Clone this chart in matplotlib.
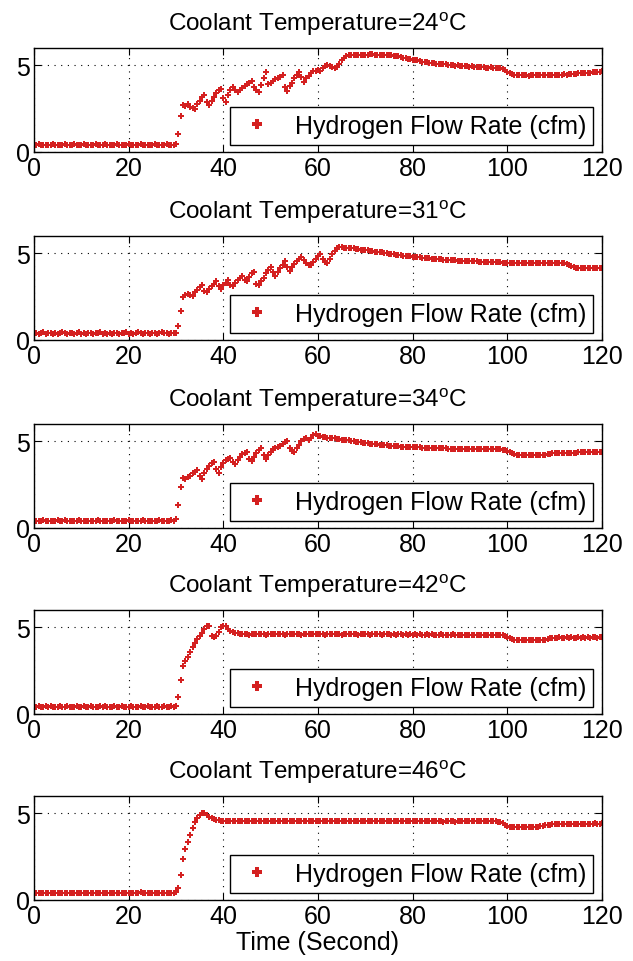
import numpy as np
import matplotlib
matplotlib.use("Agg")
import matplotlib.pyplot as plt

plt.rcParams['font.family'] = ['Liberation Sans', 'DejaVu Sans']
plt.rcParams['mathtext.fontset'] = 'custom'
plt.rcParams['mathtext.rm'] = 'Liberation Sans'

# coolant temperatures (one panel each)
temps = [24, 31, 34, 42, 46]

# hydrogen flow rate (cfm), sampled every 0.5 s from 0 to 120 s
flow_24 = [
    0.42, 0.4, 0.44, 0.41, 0.39, 0.43, 0.42, 0.4, 0.44, 0.41,
    0.43, 0.4, 0.42, 0.45, 0.41, 0.39, 0.42, 0.44, 0.4, 0.43,
    0.41, 0.44, 0.42, 0.4, 0.43, 0.41, 0.45, 0.42, 0.4, 0.43,
    0.44, 0.41, 0.43, 0.4, 0.42, 0.44, 0.41, 0.43, 0.4, 0.42,
    0.45, 0.42, 0.4, 0.43, 0.41, 0.44, 0.42, 0.4, 0.43, 0.41,
    0.42, 0.44, 0.4, 0.43, 0.41, 0.42, 0.44, 0.4, 0.43, 0.42,
    0.45, 1.05, 2.05, 2.72,
    2.68, 2.75, 2.6, 2.55, 2.48,
    2.75, 2.95, 3.15, 3.3,
    2.9, 2.7,
    2.95, 3.2, 3.4, 3.55, 3.65,
    3.1, 2.9,
    3.3, 3.55, 3.75,
    3.55, 3.45,
    3.6, 3.7, 3.8, 3.9, 4.0, 4.1,
    3.75, 3.55, 3.45,
    3.85, 4.25, 4.6,
    3.95, 4.0, 4.1, 4.2, 4.25, 4.3, 4.45,
    3.75, 3.5,
    3.8, 4.0, 4.25, 4.45, 4.6,
    4.3, 4.05,
    4.25, 4.4, 4.55, 4.65, 4.7, 4.75,
    4.7, 4.85, 4.95, 5.0, 4.95, 4.9, 4.85, 4.9,
    5.1, 5.3, 5.45, 5.55, 5.6,
    5.58, 5.6, 5.57, 5.6, 5.62, 5.6, 5.58, 5.62, 5.63, 5.65,
    5.6, 5.62, 5.6, 5.58, 5.6, 5.57, 5.6, 5.58, 5.56, 5.55,
    5.52, 5.5, 5.45, 5.42,
    5.38, 5.35, 5.32, 5.3, 5.28, 5.25, 5.22, 5.2, 5.18, 5.15,
    5.12, 5.12, 5.1, 5.08, 5.06, 5.05, 5.05, 5.03, 5.0, 5.0,
    4.98, 5.0, 4.97, 4.95, 4.96, 4.94, 4.93, 4.95, 4.92, 4.9,
    4.9, 4.88, 4.9, 4.87, 4.86, 4.88, 4.85, 4.86, 4.84, 4.85,
    4.8, 4.72,
    4.62, 4.55, 4.5, 4.47, 4.45, 4.43, 4.42, 4.42, 4.43, 4.41,
    4.42, 4.43, 4.42, 4.42, 4.44, 4.43, 4.42, 4.44, 4.45, 4.44,
    4.45, 4.46, 4.45, 4.47, 4.48, 4.47, 4.49, 4.5, 4.5, 4.52,
    4.53, 4.53, 4.55, 4.56, 4.57, 4.58, 4.6, 4.6, 4.62, 4.63, 4.65,
]

flow_31 = [
    0.38, 0.42, 0.35, 0.4, 0.44, 0.36, 0.39, 0.43, 0.37, 0.41,
    0.35, 0.4, 0.45, 0.38, 0.36, 0.42, 0.39, 0.34, 0.41, 0.44,
    0.37, 0.4, 0.36, 0.43, 0.39, 0.35, 0.41, 0.38, 0.44, 0.36,
    0.4, 0.37, 0.42, 0.35, 0.39, 0.43, 0.36, 0.4, 0.38, 0.45,
    0.37, 0.41, 0.36, 0.39, 0.44, 0.38, 0.35, 0.42, 0.4, 0.37,
    0.43, 0.39, 0.36, 0.41, 0.45, 0.38, 0.4, 0.36, 0.42, 0.39,
    0.42, 0.8, 1.65, 2.5,
    2.6, 2.65, 2.6, 2.55,
    2.75, 2.9, 3.05, 3.15,
    2.85, 2.75,
    2.95, 3.1, 3.25, 3.4,
    3.1, 2.95,
    3.15, 3.3, 3.45,
    3.2, 3.1,
    3.3, 3.45, 3.6, 3.7,
    3.45, 3.4,
    3.65, 3.85, 3.95,
    3.25, 3.15,
    3.4, 3.6, 3.85, 4.05, 4.2,
    3.9, 3.7,
    3.95, 4.15, 4.35, 4.55,
    4.2, 4.0,
    4.2, 4.4, 4.55, 4.7, 4.8,
    4.6, 4.45, 4.35, 4.3,
    4.5, 4.7, 4.85, 4.95,
    4.7, 4.5, 4.45,
    4.7, 4.95, 5.15, 5.3, 5.38,
    5.35, 5.33, 5.32, 5.3, 5.3, 5.28, 5.25, 5.25, 5.22, 5.2,
    5.2, 5.18, 5.15, 5.12, 5.1, 5.08, 5.05, 5.05, 5.02, 5.0,
    4.98, 4.95, 4.95, 4.92, 4.9, 4.88, 4.87, 4.85, 4.83, 4.82,
    4.8, 4.78, 4.78, 4.76, 4.75, 4.73, 4.72, 4.72, 4.7, 4.68,
    4.67, 4.66, 4.65, 4.64, 4.63, 4.62, 4.62, 4.6, 4.6, 4.58,
    4.57, 4.57, 4.56, 4.55, 4.55, 4.54, 4.53, 4.53, 4.52, 4.52,
    4.51, 4.5, 4.5, 4.5, 4.49, 4.49, 4.48, 4.48, 4.47, 4.47,
    4.47, 4.46, 4.46, 4.45, 4.46, 4.45, 4.44, 4.45, 4.44, 4.44,
    4.43, 4.44, 4.43, 4.45, 4.44, 4.43, 4.44, 4.45, 4.44, 4.43,
    4.45, 4.44, 4.43, 4.45, 4.42, 4.4,
    4.35, 4.28, 4.22, 4.18, 4.16, 4.15, 4.15, 4.14, 4.15, 4.14,
    4.15, 4.15, 4.14, 4.15, 4.15,
]

flow_34 = [
    0.41, 0.43, 0.39, 0.42, 0.44, 0.4, 0.42, 0.38, 0.43, 0.41,
    0.44, 0.4, 0.42, 0.45, 0.39, 0.41, 0.43, 0.4, 0.42, 0.44,
    0.39, 0.42, 0.4, 0.43, 0.41, 0.38, 0.42, 0.44, 0.4, 0.41,
    0.43, 0.39, 0.42, 0.4, 0.44, 0.41, 0.43, 0.39, 0.42, 0.4,
    0.44, 0.41, 0.39, 0.43, 0.4, 0.42, 0.45, 0.4, 0.41, 0.43,
    0.39, 0.42, 0.4, 0.44, 0.41, 0.43, 0.4, 0.42, 0.44, 0.41,
    0.5, 1.35, 2.35, 2.9,
    2.85, 2.95, 3.0, 3.15, 3.25, 3.35,
    3.0, 2.85,
    3.15, 3.4, 3.6, 3.75, 3.83,
    3.4, 3.2,
    3.5, 3.75, 3.9, 4.0, 4.02,
    3.8, 3.7,
    3.9, 4.1, 4.25, 4.35, 4.4,
    4.0, 3.85,
    4.1, 4.3, 4.5, 4.6,
    4.2, 4.0,
    4.2, 4.4, 4.55, 4.6, 4.65, 4.75, 4.85, 4.95, 5.0,
    4.6, 4.45, 4.4,
    4.6, 4.8, 5.0, 5.15, 5.2,
    5.05, 5.2, 5.35, 5.42,
    5.3, 5.28, 5.25, 5.25, 5.22, 5.2, 5.18, 5.17, 5.15, 5.13,
    5.1, 5.08, 5.07, 5.05, 5.03, 5.0, 4.98, 4.96, 4.94, 4.92,
    4.9, 4.88, 4.86, 4.85, 4.84, 4.83, 4.8, 4.79, 4.78, 4.76,
    4.75, 4.74, 4.73, 4.72, 4.71, 4.7, 4.69, 4.68, 4.68, 4.67,
    4.66, 4.66, 4.65, 4.65, 4.64, 4.63, 4.63, 4.62, 4.62, 4.61,
    4.6, 4.6, 4.6, 4.59, 4.59, 4.58, 4.58, 4.58, 4.57, 4.57,
    4.57, 4.56, 4.56, 4.56, 4.55, 4.55, 4.55, 4.56, 4.55, 4.54,
    4.55, 4.54, 4.54, 4.55, 4.54, 4.53, 4.54, 4.53, 4.52, 4.5, 4.45,
    4.38, 4.3, 4.25, 4.22, 4.2, 4.2, 4.19, 4.2, 4.19, 4.2,
    4.2, 4.2, 4.21, 4.2, 4.22, 4.24, 4.26, 4.28, 4.3, 4.3,
    4.31, 4.32, 4.32, 4.33, 4.33, 4.34, 4.35, 4.35, 4.35, 4.36,
    4.36, 4.37, 4.37, 4.38, 4.38, 4.38, 4.39, 4.39, 4.4, 4.4,
]

flow_42 = [
    0.43, 0.41, 0.44, 0.42, 0.4, 0.44, 0.42, 0.45, 0.41, 0.43,
    0.4, 0.44, 0.42, 0.41, 0.45, 0.43, 0.4, 0.42, 0.44, 0.41,
    0.43, 0.45, 0.41, 0.42, 0.44, 0.4, 0.43, 0.42, 0.45, 0.41,
    0.44, 0.42, 0.4, 0.43, 0.45, 0.41, 0.42, 0.44, 0.4, 0.43,
    0.42, 0.45, 0.41, 0.43, 0.4, 0.44, 0.42, 0.41, 0.45, 0.43,
    0.4, 0.42, 0.44, 0.41, 0.43, 0.45, 0.42, 0.4, 0.44, 0.42,
    0.45, 1.0, 1.95, 2.75,
    3.05, 3.3, 3.6, 3.85, 4.1, 4.3, 4.5, 4.7, 4.9, 5.05, 5.1,
    4.5, 4.45, 4.5, 4.75, 5.0, 5.1, 5.05,
    4.9, 4.8, 4.72, 4.68, 4.65, 4.62, 4.62, 4.6,
    4.6, 4.58, 4.62, 4.6, 4.61, 4.59, 4.62, 4.6, 4.58, 4.61,
    4.6, 4.62, 4.59, 4.6, 4.61, 4.6, 4.58, 4.62, 4.6, 4.59,
    4.61, 4.6, 4.62, 4.58, 4.6, 4.61, 4.59, 4.6, 4.62, 4.6,
    4.59, 4.61, 4.6, 4.58, 4.6, 4.62, 4.6, 4.59, 4.61, 4.6,
    4.58, 4.6, 4.61, 4.59, 4.6, 4.6, 4.62, 4.58, 4.6, 4.59,
    4.61, 4.6, 4.58, 4.6, 4.59, 4.61, 4.6, 4.58, 4.6, 4.59,
    4.6, 4.58, 4.6, 4.57, 4.59, 4.6, 4.58, 4.59, 4.57, 4.6,
    4.58, 4.59, 4.57, 4.6, 4.58, 4.57, 4.59, 4.58, 4.6, 4.57,
    4.58, 4.57, 4.59, 4.58, 4.56, 4.58, 4.57, 4.59, 4.56, 4.58,
    4.57, 4.56, 4.58, 4.57, 4.56, 4.58, 4.57, 4.55, 4.57, 4.56,
    4.57, 4.55, 4.56, 4.58, 4.56, 4.55, 4.57, 4.56, 4.54, 4.52,
    4.45, 4.36, 4.3, 4.28, 4.27, 4.26, 4.27, 4.26, 4.28, 4.26,
    4.27, 4.26, 4.28, 4.27, 4.26, 4.27, 4.28, 4.3, 4.36, 4.4,
    4.41, 4.4, 4.42, 4.4, 4.41, 4.43, 4.4, 4.42, 4.41, 4.4,
    4.42, 4.41, 4.43, 4.4, 4.42, 4.41, 4.43, 4.42, 4.41, 4.42, 4.42,
]

flow_46 = [
    0.4, 0.42, 0.38, 0.41, 0.43, 0.39, 0.4, 0.42, 0.38, 0.41,
    0.43, 0.39, 0.41, 0.4, 0.42, 0.38, 0.4, 0.43, 0.39, 0.41,
    0.42, 0.38, 0.4, 0.41, 0.43, 0.39, 0.42, 0.4, 0.38, 0.41,
    0.43, 0.4, 0.39, 0.42, 0.4, 0.38, 0.41, 0.43, 0.4, 0.42,
    0.39, 0.41, 0.43, 0.4, 0.42, 0.44, 0.4, 0.41, 0.39, 0.42,
    0.4, 0.43, 0.41, 0.39, 0.42, 0.4, 0.41, 0.43, 0.4, 0.42,
    0.45, 0.7, 1.45, 2.35, 2.95, 3.35, 3.75, 4.15, 4.5, 4.75,
    4.9, 5.0, 5.02, 4.92, 4.8, 4.72, 4.65, 4.62, 4.6, 4.58,
    4.57, 4.55, 4.58, 4.56, 4.55, 4.57, 4.54, 4.56, 4.58, 4.55,
    4.56, 4.54, 4.57, 4.55, 4.56, 4.58, 4.55, 4.54, 4.56, 4.57,
    4.55, 4.57, 4.54, 4.56, 4.55, 4.57, 4.56, 4.54, 4.55, 4.57,
    4.56, 4.55, 4.57, 4.54, 4.56, 4.55, 4.57, 4.55, 4.54, 4.56,
    4.55, 4.57, 4.56, 4.54, 4.55, 4.56, 4.54, 4.57, 4.55, 4.56,
    4.54, 4.56, 4.55, 4.57, 4.55, 4.54, 4.56, 4.55, 4.53, 4.56,
    4.55, 4.54, 4.56, 4.53, 4.55, 4.56, 4.54, 4.55, 4.53, 4.55,
    4.54, 4.56, 4.53, 4.55, 4.54, 4.53, 4.55, 4.54, 4.56, 4.53,
    4.54, 4.55, 4.53, 4.54, 4.56, 4.53, 4.54, 4.55, 4.53, 4.54,
    4.53, 4.55, 4.54, 4.52, 4.54, 4.55, 4.53, 4.54, 4.52, 4.54,
    4.53, 4.55, 4.54, 4.53, 4.55, 4.53, 4.54, 4.56, 4.53, 4.54,
    4.55, 4.54, 4.56, 4.55, 4.53, 4.54, 4.52, 4.5,
    4.42, 4.32, 4.26, 4.24, 4.23, 4.22, 4.23, 4.21, 4.22, 4.23,
    4.22, 4.21, 4.23, 4.22, 4.21, 4.23, 4.25, 4.28, 4.31, 4.34,
    4.35, 4.36, 4.37, 4.36, 4.38, 4.37, 4.38, 4.39, 4.38, 4.4,
    4.39, 4.38, 4.4, 4.39, 4.41, 4.4, 4.39, 4.41, 4.4, 4.42,
    4.41, 4.4, 4.42,
]

series = [flow_24, flow_31, flow_34, flow_42, flow_46]
red = '#d42020'

fig = plt.figure(figsize=(6.33, 9.62), dpi=100)
W, H = 633.0, 962.0
# pixel top of each panel, panels are 104 px tall
tops = [49, 237, 425, 611, 797]
left, right = 34, 602

for k, (T, flow) in enumerate(zip(temps, series)):
    t = 0.5 * np.arange(len(flow))
    ax = fig.add_axes([left / W, 1 - (tops[k] + 104) / H, (right - left) / W, 104 / H])
    ax.plot(t, flow, linestyle='none', marker='P', markersize=5,
            color=red, markeredgewidth=0, label='Hydrogen Flow Rate (cfm)')
    ax.set_xlim(0, 120)
    ax.set_ylim(0, 6)
    ax.set_xticks([0, 20, 40, 60, 80, 100, 120])
    ax.set_yticks([0, 5])
    ax.grid(True, color='black', linestyle=(0, (1, 5)), linewidth=0.8)
    ax.tick_params(direction='in', length=5, top=True, right=True,
                   labelsize=18, pad=3)
    for sp in ax.spines.values():
        sp.set_linewidth(1.0)
    ax.set_title(f'Coolant Temperature={T}$^{{\\rm o}}$C', fontsize=17.5, pad=13)
    leg = ax.legend(loc='lower right', bbox_to_anchor=(0.984, 0.067),
                    fontsize=18, numpoints=1, handlelength=1.6,
                    handletextpad=0.7, borderpad=0.28, fancybox=False,
                    framealpha=1, edgecolor='black', borderaxespad=0,
                    markerscale=1.3)
    leg.get_frame().set_linewidth(1.0)
    if k == 4:
        ax.set_xlabel('Time (Second)', fontsize=18, labelpad=1)

fig.savefig('out.png', dpi=100)
